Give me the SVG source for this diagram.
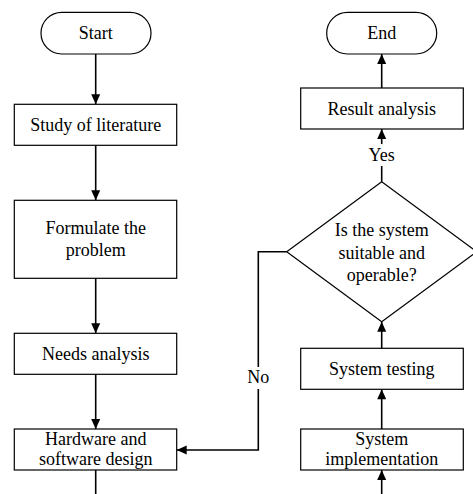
<svg xmlns="http://www.w3.org/2000/svg" width="473" height="494" viewBox="0 0 473 494">
<defs>
<style>
.box{fill:#fff;stroke:#000;stroke-width:1.2}
.t{font-size:18px;fill:#000;text-anchor:middle}
.c{fill:none;stroke:#000;stroke-width:1.6}
.lbg{fill:#fff;stroke:none}
</style>
<marker id="ah" viewBox="0 0 10 10" refX="10" refY="5" markerWidth="11" markerHeight="10" markerUnits="userSpaceOnUse" orient="auto">
<path d="M0,0.5 L10,5 L0,9.5 z" fill="#000"/>
</marker>
</defs>
<rect width="473" height="494" fill="#fff"/>
<g id="connectors">
<path class="c" d="M95.7,54 V104.3" marker-end="url(#ah)"/>
<path class="c" d="M95.7,145.3 V200.3" marker-end="url(#ah)"/>
<path class="c" d="M95.7,278.3 V333.3" marker-end="url(#ah)"/>
<path class="c" d="M95.7,374.3 V429" marker-end="url(#ah)"/>
<path class="c" d="M95.7,470 V494"/>
<path class="c" d="M381.7,494 V470" marker-end="url(#ah)"/>
<path class="c" d="M381.7,429 V389.3" marker-end="url(#ah)"/>
<path class="c" d="M381.7,348.3 V321.7" marker-end="url(#ah)"/>
<path class="c" d="M381.7,181.7 V129" marker-end="url(#ah)"/>
<path class="c" d="M381.7,88 V54" marker-end="url(#ah)"/>
<path class="c" d="M286.7,251.7 H258.3 V450 H176.7" marker-end="url(#ah)"/>
<g id="label-yes">
<rect class="lbg" x="366" y="144" width="32" height="22"/>
<text class="t" x="381.7" y="160.5" style="font-family:'Liberation Serif'">Yes</text>
</g>
<g id="label-no">
<rect class="lbg" x="245" y="367" width="27" height="22"/>
<text class="t" x="258.3" y="383" style="font-family:'Liberation Serif'">No</text>
</g>
</g>
<g id="start">
<rect class="box" x="41" y="12.3" width="110" height="41.7" rx="20.8"/>
<text class="t" x="95.7" y="39" style="font-family:'Liberation Serif'">Start</text>
</g>
<g id="study">
<rect class="box" x="14.3" y="104.3" width="162.4" height="41"/>
<text class="t" x="95.7" y="130.7" style="font-family:'Liberation Serif'">Study of literature</text>
</g>
<g id="formulate">
<rect class="box" x="14.3" y="200.3" width="162.4" height="78"/>
<text class="t" x="95.7" y="234" style="font-family:'Liberation Serif'">Formulate the</text>
<text class="t" x="95.7" y="255.5" style="font-family:'Liberation Serif'">problem</text>
</g>
<g id="needs">
<rect class="box" x="14.3" y="333.3" width="162.4" height="41"/>
<text class="t" x="95.7" y="359.5" style="font-family:'Liberation Serif'">Needs analysis</text>
</g>
<g id="hardware">
<rect class="box" x="14.3" y="429" width="162.4" height="41"/>
<text class="t" x="95.7" y="445" style="font-family:'Liberation Serif'">Hardware and</text>
<text class="t" x="95.7" y="465" style="font-family:'Liberation Serif'">software design</text>
</g>
<g id="end">
<rect class="box" x="326.7" y="12.3" width="110" height="41.7" rx="20.8"/>
<text class="t" x="381.7" y="39" style="font-family:'Liberation Serif'">End</text>
</g>
<g id="result">
<rect class="box" x="300.7" y="88" width="162.6" height="41"/>
<text class="t" x="381.7" y="114.5" style="font-family:'Liberation Serif'">Result analysis</text>
</g>
<g id="decision">
<polygon class="box" points="381.7,181.7 476.7,251.7 381.7,321.7 286.7,251.7"/>
<text class="t" x="381.7" y="236" style="font-family:'Liberation Serif'">Is the system</text>
<text class="t" x="381.7" y="258.5" style="font-family:'Liberation Serif'">suitable and</text>
<text class="t" x="381.7" y="281" style="font-family:'Liberation Serif'">operable?</text>
</g>
<g id="testing">
<rect class="box" x="300.7" y="348.3" width="162.6" height="41"/>
<text class="t" x="381.7" y="375" style="font-family:'Liberation Serif'">System testing</text>
</g>
<g id="implementation">
<rect class="box" x="300.7" y="429" width="162.6" height="41"/>
<text class="t" x="381.7" y="445" style="font-family:'Liberation Serif'">System</text>
<text class="t" x="381.7" y="465" style="font-family:'Liberation Serif'">implementation</text>
</g>
</svg>
